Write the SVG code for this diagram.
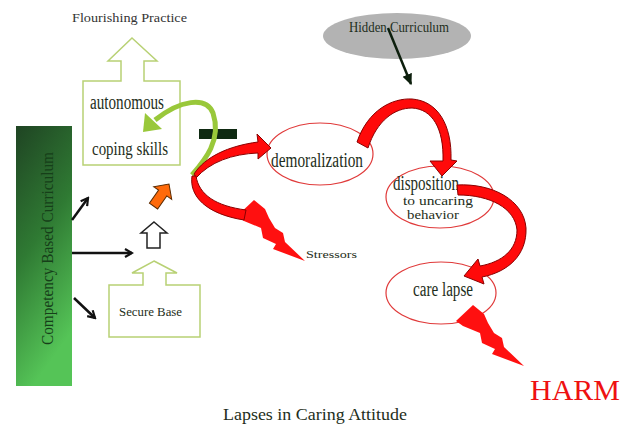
<svg xmlns="http://www.w3.org/2000/svg" width="623" height="428" viewBox="0 0 623 428">
<defs>
<linearGradient id="gbar" x1="0" y1="0" x2="0.3" y2="1">
<stop offset="0" stop-color="#1f4423"/>
<stop offset="0.5" stop-color="#2f7a33"/>
<stop offset="1" stop-color="#55c457"/>
</linearGradient>
<marker id="blk" viewBox="0 0 10 10" refX="8" refY="5" markerWidth="4" markerHeight="4" orient="auto">
<path d="M1,1 L8,5 L1,9" fill="none" stroke="#111" stroke-width="2.2"/>
</marker>
<marker id="blk2" viewBox="0 0 10 10" refX="8" refY="5" markerWidth="5" markerHeight="5" orient="auto">
<path d="M0,1 L9,5 L0,9 Z" fill="#0d1f0d"/>
</marker>
</defs>
<style>
.t{font-family:"Liberation Serif","Times New Roman",serif;fill:#1e2e20}
.house{fill:#fff;stroke:#b8d174;stroke-width:1.5}
.ell{fill:#fff;stroke:#e03a3a;stroke-width:1.2}
.red{fill:#ff0a0a;stroke:#8a0000;stroke-width:1}
.bolt{fill:#ff1010}
.ln{stroke:#111;stroke-width:2.5;fill:none}
</style>
<rect width="623" height="428" fill="#fff"/>

<g id="competency">
<rect x="16" y="126" width="56" height="260" fill="url(#gbar)"/>
<text class="t" transform="translate(53,345) rotate(-90)" font-size="17" style="fill:#163f19" textLength="193" lengthAdjust="spacingAndGlyphs">Competency Based Curriculum</text>
</g>

<g id="flourishing">
<text class="t" x="72" y="22" font-size="13" style="fill:#333" textLength="115" lengthAdjust="spacingAndGlyphs">Flourishing Practice</text>
</g>

<g id="autonomous">
<polygon class="house" points="132,38 157,61 144,61 144,81 180,81 180,165 83,165 83,81 121,81 121,61 108,61"/>
<text class="t" x="90" y="109" font-size="20" textLength="74" lengthAdjust="spacingAndGlyphs">autonomous</text>
<text class="t" x="92" y="155" font-size="19" textLength="76" lengthAdjust="spacingAndGlyphs">coping skills</text>
</g>

<g id="securebase">
<polygon class="house" points="154,261 177,273 166,273 166,285 200,285 200,337 109,337 109,285 143,285 143,273 132,273"/>
<text class="t" x="119" y="316" font-size="13" textLength="63" lengthAdjust="spacingAndGlyphs">Secure Base</text>
</g>

<g id="whitearrow">
<polygon points="154,222 167,233 160,233 160,248 147,248 147,233 141,233" fill="#fff" stroke="#222" stroke-width="1.5"/>
</g>

<g id="orangearrow">
<polygon transform="translate(169,184) rotate(35)" points="0,0 11,11 5,11 5,27 -5,27 -5,11 -11,11" fill="#ff6a0a" stroke="#5a2a00" stroke-width="1"/>
</g>

<g id="minus">
<rect x="199" y="129" width="38" height="10" fill="#0f2a12"/>
</g>

<g id="hidden">
<ellipse cx="397" cy="36" rx="74" ry="23" fill="#b3b3b3"/>
<text class="t" x="349" y="32" font-size="14" textLength="100" lengthAdjust="spacingAndGlyphs">Hidden Curriculum</text>
</g>

<g id="demoralization">
<ellipse class="ell" cx="320" cy="154" rx="53" ry="31"/>
<text class="t" x="271" y="167" font-size="20" textLength="92" lengthAdjust="spacingAndGlyphs">demoralization</text>
</g>

<g id="disposition">
<ellipse class="ell" cx="440" cy="197" rx="54" ry="31"/>
<text class="t" x="393" y="190" font-size="20" textLength="66" lengthAdjust="spacingAndGlyphs">disposition</text>
<text class="t" x="403" y="205" font-size="13" textLength="70" lengthAdjust="spacingAndGlyphs">to uncaring</text>
<text class="t" x="407" y="219" font-size="13" textLength="52" lengthAdjust="spacingAndGlyphs">behavior</text>
</g>

<g id="carelapse">
<ellipse class="ell" cx="441" cy="293" rx="55" ry="31"/>
<text class="t" x="413" y="296" font-size="20" textLength="60" lengthAdjust="spacingAndGlyphs">care lapse</text>
</g>

<g id="stressors">
<polygon class="bolt" points="254,200 265,209 269,218 275,228 283,233 285,242 305,261 273,249 276,244 263,238 261,228 244,221 237,216"/>
<text class="t" x="306" y="258" font-size="11" textLength="51" lengthAdjust="spacingAndGlyphs">Stressors</text>
</g>

<g id="harm">
<polygon class="bolt" points="473,305 484,314 488,323 494,333 502,338 504,347 524,366 492,354 495,349 482,343 480,333 463,326 456,321"/>
<text x="530" y="400" font-family="Liberation Serif, Times New Roman, serif" font-size="30" fill="#ee1111" textLength="90" lengthAdjust="spacingAndGlyphs">HARM</text>
</g>

<g id="title">
<text class="t" x="223" y="420" font-size="17" textLength="184" lengthAdjust="spacingAndGlyphs">Lapses in Caring Attitude</text>
</g>

<g id="connectors">
<line class="ln" x1="72" y1="220" x2="88" y2="198" marker-end="url(#blk)"/>
<line class="ln" x1="72" y1="253" x2="132" y2="253" marker-end="url(#blk)"/>
<line class="ln" x1="74" y1="298" x2="95" y2="318" marker-end="url(#blk)"/>
<line x1="388" y1="28" x2="411" y2="84" stroke="#0d1f0d" stroke-width="2.5" marker-end="url(#blk2)"/>
<path d="M192,175 C 205,160 222,140 213,113 C 206,96 180,100 155,120" fill="none" stroke="#99c83a" stroke-width="5"/>
<polygon points="143,132 145,113 162,129" fill="#99c83a"/>
<path class="red" d="M194,174 C 205,157 228,146 258,142 L257,134 L271,148 L258,159 L258,153 C 232,154 210,162 196,178 Z"/>
<path class="red" d="M192,176 C 189,196 206,214 244,220 L246,210 C 216,206 199,195 196,176 Z"/>
<path class="red" d="M357,142 C 368,110 392,98 412,99 C 438,101 452,125 451,160 L457,161 L442,176 L430,161 L443,161 C 444,128 432,109 412,108 C 395,108 377,120 368,148 Z"/>
<path class="red" d="M457,185 C 492,183 524,200 526,228 C 527,255 508,272 482,277 L484,284 L464,276 L478,259 L480,266 C 502,262 517,250 517,230 C 515,208 490,195 458,195 Z"/>
</g>
</svg>
